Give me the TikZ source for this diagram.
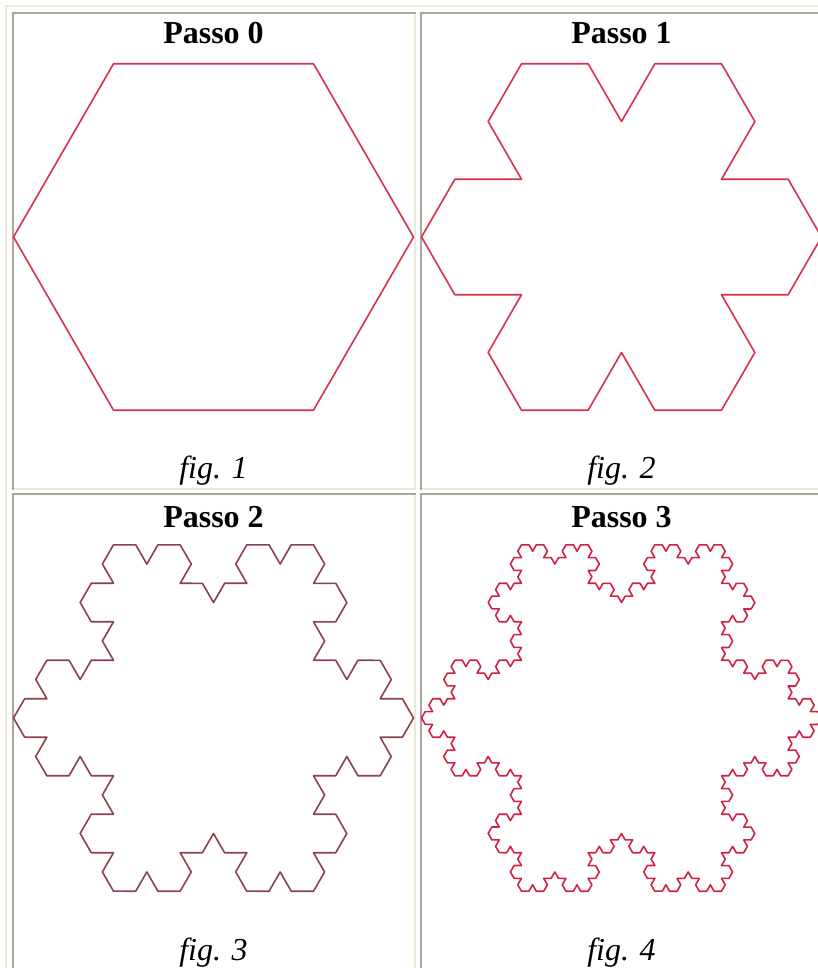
\documentclass[tikz,border=0pt]{standalone}
\usepackage{fontspec}
\setmainfont{Liberation Serif}
\usetikzlibrary{decorations.fractals}
\definecolor{lightb}{RGB}{236,233,216}
\definecolor{darkb}{RGB}{172,168,153}
\definecolor{kred}{RGB}{214,50,75}
\definecolor{kred4}{RGB}{208,35,66}
\definecolor{kbrown}{RGB}{140,66,76}
\tikzset{
  lightline/.style={draw=lightb,line width=2pt},
  darkline/.style={draw=darkb,line width=2pt},
  koch/.style={line width=1.6pt,line join=round,line cap=round,decoration=Koch snowflake},
  title/.style={anchor=base,font=\fontsize{32}{38}\selectfont\bfseries,inner sep=0pt},
  caption/.style={anchor=base,font=\fontsize{32}{38}\selectfont\itshape,inner sep=0pt}
}
\newcommand{\hexpath}{(200,0) -- (100,173.205) -- (-100,173.205) -- (-200,0) -- (-100,-173.205) -- (100,-173.205) -- (200,0)}
\begin{document}
\begin{tikzpicture}[x=1pt,y=1pt]
\useasboundingbox (0,0) rectangle (818,-968);
\fill[white] (0,0) rectangle (818,-968);
% outer table border
\draw[lightline] (5,-6) -- (818,-6);
\draw[lightline] (6,-5) -- (6,-968);
% top-left cell
\draw[darkline] (12,-13) -- (416,-13);
\draw[darkline] (13,-12) -- (13,-490);
\draw[lightline] (415,-14) -- (415,-490);
\draw[lightline] (14,-489) -- (416,-489);
% top-right cell
\draw[darkline] (420,-13) -- (818,-13);
\draw[darkline] (421,-12) -- (421,-490);
\draw[lightline] (422,-489) -- (818,-489);
% bottom-left cell
\draw[darkline] (12,-494) -- (416,-494);
\draw[darkline] (13,-493) -- (13,-968);
\draw[lightline] (415,-495) -- (415,-968);
% bottom-right cell
\draw[darkline] (420,-494) -- (818,-494);
\draw[darkline] (421,-493) -- (421,-968);
% titles and captions
\node[title] (t0) at (213.5,-44) {Passo 0};
\node[title] (t1) at (621.5,-44) {Passo 1};
\node[title] (t2) at (213.5,-527) {Passo 2};
\node[title] (t3) at (621.5,-527) {Passo 3};
\node[caption] (f1) at (213.5,-478) {fig. 1};
\node[caption] (f2) at (621.5,-478) {fig. 2};
\node[caption] (f3) at (213.5,-960) {fig. 3};
\node[caption] (f4) at (621.5,-960) {fig. 4};
% fractals
\begin{scope}[shift={(213.5,-237)}]
  \draw[koch,draw=kred] \hexpath;
\end{scope}
\begin{scope}[shift={(621.5,-237)}]
  \draw[koch,draw=kred] decorate{\hexpath};
\end{scope}
\begin{scope}[shift={(213.5,-718)}]
  \draw[koch,draw=kbrown] decorate{decorate{\hexpath}};
\end{scope}
\begin{scope}[shift={(621.5,-718)}]
  \draw[koch,draw=kred4] decorate{decorate{decorate{\hexpath}}};
\end{scope}
\end{tikzpicture}
\end{document}
